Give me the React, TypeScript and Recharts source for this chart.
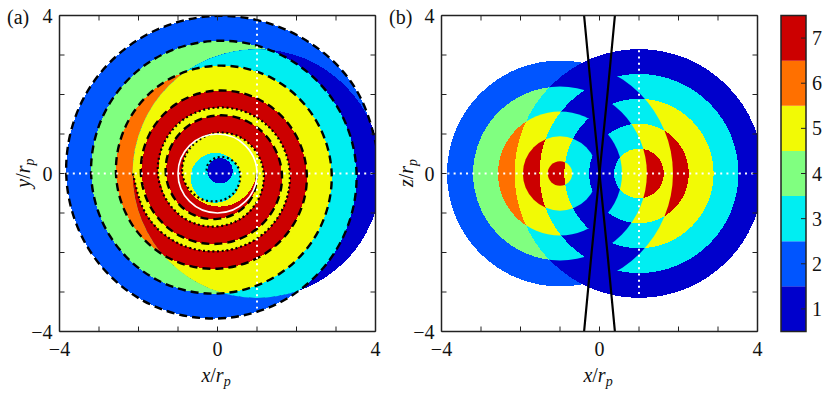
import { ComposedChart, ReferenceArea, ReferenceLine, Scatter, XAxis, YAxis } from "recharts"

const levelColors = ["#ffffff", "#0000cc", "#0055ff", "#00eef2", "#80ff80", "#f2fa05", "#ff7000", "#cc0000"]
const levelTicks = [1, 2, 3, 4, 5, 6, 7]
const axisTicks = [-4, -3, -2, -1, 0, 1, 2, 3, 4]
const labelledTicks = [-4, 0, 4]

// spiral radii read every 30 degrees, angle counted from +x going counter-clockwise
const dashedRadii = [
  4.15, 4.1, 4.04, 3.99, 3.94, 3.89, 3.83, 3.78, 3.73, 3.67, 3.62, 3.57, 3.52, 3.47, 3.41, 3.36, 3.31, 3.25, 3.2, 3.15,
  3.1, 3.04, 2.99, 2.94, 2.89, 2.83, 2.78, 2.73, 2.68, 2.62, 2.57, 2.52, 2.47, 2.41, 2.36, 2.31, 2.26, 2.2, 2.15, 2.1,
  2.05, 1.99, 1.94, 1.89, 1.84, 1.78, 1.73, 1.68, 1.63, 1.57, 1.52, 1.47, 1.42, 1.36, 1.31, 1.26, 1.21, 1.15, 1.1, 1.05,
  1.0,
]
// starts at 180 degrees
const dottedRadii = [
  2.14, 2.08, 2.03, 1.97, 1.93, 1.88, 1.83, 1.78, 1.72, 1.67, 1.62, 1.56, 1.51, 1.45, 1.4, 1.34, 1.28, 1.22, 1.17, 1.12,
  1.08, 1.03, 0.97, 0.93, 0.89, 0.82, 0.76, 0.7, 0.66, 0.61, 0.57, 0.52, 0.46, 0.41, 0.36, 0.31, 0.26,
]

const outsideBands = [
  { from: 0, to: 360, level: 2 },
  { from: 360, to: 720, level: 4 },
  { from: 720, to: 1080, level: 6 },
]
const insideBands = [
  { arm: "dashed", from: 180, to: 540, level: 3 },
  { arm: "dashed", from: 540, to: 900, level: 5 },
  { arm: "dashed", from: 900, to: 1260, level: 7 },
  { arm: "dotted", from: 180, to: 540, level: 5 },
  { arm: "dashed", from: 1260, to: 1620, level: 7 },
  { arm: "dotted", from: 540, to: 900, level: 5 },
  { arm: "dashed", from: 1620, to: 1800, level: 7 },
]
const coreDiscs = [
  { cx: 0.05, cy: 0.1, r: 0.94, level: 5 },
  { cx: -0.05, cy: -0.11, r: 0.63, level: 3 },
  { cx: 0.065, cy: 0.07, r: 0.32, level: 1 },
]
const crescentDisc = { cx: 1, cy: 0, r: 3.15 }

// panel b: two families of discs, and the level of each overlap
const leftRadii = [2.86, 2.2, 1.57, 0.94, 0.31]
const rightRadii = [3.15, 2.52, 1.89, 1.26, 0.63]
const overlapLevels = [
  [0, 1, 3, 5, 7, 7],
  [2, 1, 1, 3, 5, 7],
  [4, 3, 1, 1, 3, 5],
  [6, 5, 3, 1, 1, 3],
  [7, 7, 5, 3, 1, 1],
  [7, 7, 7, 5, 3, 1],
]
const wedgeA = [
  { x: -0.39, y: 4 },
  { x: -0.2, y: 2 },
  { x: 0, y: 0 },
  { x: 0.2, y: -2 },
  { x: 0.39, y: -4 },
]
const wedgeB = [
  { x: 0.39, y: 4 },
  { x: 0.2, y: 2 },
  { x: 0, y: 0 },
  { x: -0.2, y: -2 },
  { x: -0.39, y: -4 },
]

const FONT = "'Liberation Serif', serif"
const INK = "#222"
const PLOT = 316

function armPoints(arm: string, from: number, to: number) {
  const radii = arm === "dashed" ? dashedRadii : dottedRadii
  const start = arm === "dashed" ? 0 : 180
  const pts = []
  for (let a = from; a <= to; a += 30) {
    const r = radii[(a - start) / 30]
    const t = (a * Math.PI) / 180
    pts.push({ x: r * Math.cos(t), y: r * Math.sin(t) })
  }
  return pts
}

const NoMark = () => null

function axisTick(side: string, labels: number[], fmt = (v: number) => String(v).replace("-", "−")) {
  return (p: any) => {
    const { x, y, payload } = p
    const v = payload.value
    const show = labels.includes(v)
    if (side === "bottom")
      return (
        <g>
          <line x1={x} x2={x} y1={y} y2={y - 5} stroke={INK} />
          {show && (
            <text x={x} y={y + 24} textAnchor="middle" fontFamily={FONT} fontSize={20} fill="#111">
              {fmt(v)}
            </text>
          )}
        </g>
      )
    if (side === "top") return <line x1={x} x2={x} y1={y} y2={y + 5} stroke={INK} />
    if (side === "right")
      return (
        <g>
          <line x1={x} x2={x - 5} y1={y} y2={y} stroke={INK} />
          {show && (
            <text x={x + 6} y={y + 7} fontFamily={FONT} fontSize={20} fill="#111">
              {fmt(v)}
            </text>
          )}
        </g>
      )
    return (
      <g>
        <line x1={x} x2={x + 5} y1={y} y2={y} stroke={INK} />
        {show && (
          <text x={x - 7} y={y + 7} textAnchor="end" fontFamily={FONT} fontSize={20} fill="#111">
            {fmt(v)}
          </text>
        )}
      </g>
    )
  }
}

function frameAxes() {
  const line = { stroke: INK, strokeWidth: 1.5 }
  const common = { type: "number" as const, ticks: axisTicks, domain: [-4, 4], allowDataOverflow: true, interval: 0 as const, tickSize: 0, tickMargin: 0, tickLine: false, axisLine: line, zIndex: 5000 }
  return [
    <XAxis key="xb" dataKey="x" height={1} tick={axisTick("bottom", labelledTicks)} {...common} />,
    <XAxis key="xt" xAxisId="top" orientation="top" dataKey="x" height={1} tick={axisTick("top", [])} {...common} />,
    <YAxis key="yl" dataKey="y" width={1} tick={axisTick("left", labelledTicks)} {...common} />,
    <YAxis key="yr" yAxisId="right" orientation="right" dataKey="y" width={1} tick={axisTick("right", [])} {...common} />,
  ]
}

function discShape(fill: string, clip?: string, extra: any = {}) {
  return (p: any) => (
    <ellipse
      cx={p.x + p.width / 2}
      cy={p.y + p.height / 2}
      rx={p.width / 2}
      ry={p.height / 2}
      fill={fill}
      clipPath={clip ? `url(#${clip})` : undefined}
      shapeRendering="crispEdges"
      {...extra}
    />
  )
}

// disc with a hole: holeShare is the inner radius as a share of the outer one
function ringShape(fill: string, clip: string, holeShare: number) {
  return (p: any) => {
    const R = p.width / 2
    const r = R * holeShare
    const cx = p.x + R
    const cy = p.y + p.height / 2
    const circle = (q: number) => `M${cx - q},${cy}A${q},${q} 0 1 0 ${cx + q},${cy}A${q},${q} 0 1 0 ${cx - q},${cy}Z`
    return <path d={circle(R) + circle(r)} fillRule="evenodd" fill={fill} clipPath={`url(#${clip})`} shapeRendering="crispEdges" />
  }
}

function clipDisc(id: string, parent?: string) {
  return (p: any) => (
    <clipPath id={id} clipPath={parent ? `url(#${parent})` : undefined}>
      <ellipse cx={p.x + p.width / 2} cy={p.y + p.height / 2} rx={p.width / 2} ry={p.height / 2} shapeRendering="crispEdges" />
    </clipPath>
  )
}

function clipRect(id: string) {
  return (p: any) => (
    <clipPath id={id}>
      <rect x={p.x} y={p.y} width={p.width} height={p.height} />
    </clipPath>
  )
}

function disc(key: string, cx: number, cy: number, r: number, shape: any, zIndex: number) {
  return (
    <ReferenceArea
      key={key}
      x1={cx - r}
      x2={cx + r}
      y1={cy - r}
      y2={cy + r}
      ifOverflow="visible"
      shape={shape}
      zIndex={zIndex}
    />
  )
}

function band(key: string, pts: any[], level: number, clip: string, zIndex: number) {
  return (
    <Scatter
      key={key}
      data={pts}
      shape={NoMark}
      line={{ fill: levelColors[level], stroke: "none", clipPath: `url(#${clip})`, shapeRendering: "crispEdges" } as any}
      lineJointType="natural"
      isAnimationActive={false}
      zIndex={zIndex}
    />
  )
}

function curve(key: string, pts: any[], style: any, zIndex: number, type = "natural") {
  return (
    <Scatter
      key={key}
      data={pts}
      shape={NoMark}
      line={{ fill: "none", ...style }}
      lineJointType={type as any}
      isAnimationActive={false}
      zIndex={zIndex}
    />
  )
}

function whiteGuide(key: string, segment: any[], zIndex: number) {
  return (
    <ReferenceLine
      key={key}
      segment={segment}
      stroke="#fff"
      strokeWidth={2}
      strokeDasharray="2 4.2"
      ifOverflow="visible"
      zIndex={zIndex}
    />
  )
}

function PanelA() {
  let z = 10
  return (
    <ComposedChart width={415} height={395} margin={{ left: 58.5, top: 14.5, right: 415 - 60.5 - PLOT, bottom: 395 - 16.5 - PLOT }}>
      {frameAxes()}
      <ReferenceArea x1={-4} x2={4} y1={-4} y2={4} ifOverflow="visible" shape={clipRect("a-frame")} zIndex={z++} />
      {disc("clipC", crescentDisc.cx, crescentDisc.cy, crescentDisc.r, clipDisc("a-c", "a-frame"), z++)}
      {outsideBands.map((b, i) => band(`o${i}`, armPoints("dashed", b.from, b.to), b.level, "a-frame", z++))}
      {disc("discC", crescentDisc.cx, crescentDisc.cy, crescentDisc.r, discShape(levelColors[1], "a-frame"), z++)}
      {insideBands.map((b, i) => band(`i${i}`, armPoints(b.arm, b.from, b.to), b.level, "a-c", z++))}
      {coreDiscs.map((d, i) => disc(`core${i}`, d.cx, d.cy, d.r, discShape(levelColors[d.level]), z++))}
      {curve("dashed", armPoints("dashed", 0, 1800), { stroke: "#000", strokeWidth: 2.4, strokeDasharray: "8 5", clipPath: "url(#a-frame)" }, z++)}
      {curve("dotted", armPoints("dotted", 180, 1260), { stroke: "#000", strokeWidth: 2.2, strokeDasharray: "2 2.7" }, z++)}
      {disc("planet", 0, 0, 1, discShape("none", undefined, { stroke: "#fff", strokeWidth: 1.6, shapeRendering: "auto" }), z++)}
      {whiteGuide("h", [{ x: -3.82, y: 0 }, { x: 4, y: 0 }], z++)}
      {whiteGuide("v", [{ x: 1, y: 3.85 }, { x: 1, y: -3.42 }], z++)}
    </ComposedChart>
  )
}

function PanelB() {
  let z = 10
  const cells: any[] = []
  // plain left discs go underneath everything, so the clipped edges only mix neighbouring cells
  overlapLevels.forEach((row, iL) => {
    if (iL > 0) cells.push(disc(`lf${iL}`, -1, 0, leftRadii[iL - 1], discShape(levelColors[row[0]]), z++))
  })
  overlapLevels.forEach((row, iL) => {
    const clip = iL === 0 ? "b-frame" : `b-l${iL}`
    if (iL > 0) cells.push(disc(`lc${iL}`, -1, 0, leftRadii[iL - 1], clipDisc(clip), z++))
    rightRadii.forEach((r, k) => {
      const hole = k + 1 < rightRadii.length ? rightRadii[k + 1] / r : 0
      cells.push(disc(`c${iL}-${k}`, 1, 0, r, ringShape(levelColors[row[k + 1]], clip, hole), z++))
    })
  })
  return (
    <ComposedChart width={415} height={395} margin={{ left: 55.5, top: 14.5, right: 415 - 57.5 - PLOT, bottom: 395 - 16.5 - PLOT }}>
      {frameAxes()}
      <ReferenceArea x1={-4} x2={4} y1={-4} y2={4} ifOverflow="visible" shape={clipRect("b-frame")} zIndex={z++} />
      {cells}
      {whiteGuide("h", [{ x: -3.85, y: 0 }, { x: 4, y: 0 }], z++)}
      {whiteGuide("v", [{ x: 1, y: 3.12 }, { x: 1, y: -3.12 }], z++)}
      {curve("w1", wedgeA, { stroke: "#000", strokeWidth: 2.2 }, z++, "linear")}
      {curve("w2", wedgeB, { stroke: "#000", strokeWidth: 2.2 }, z++, "linear")}
    </ComposedChart>
  )
}

function ColorBar() {
  return (
    <ComposedChart width={60} height={395} margin={{ left: 11, top: 15.5, right: 23, bottom: 395 - 15.5 - PLOT }}>
      <XAxis type="number" dataKey="x" domain={[0, 1]} hide allowDataOverflow />
      <YAxis
        type="number"
        dataKey="y"
        orientation="right"
        domain={[0.5, 7.5]}
        ticks={levelTicks}
        interval={0}
        width={1}
        tickSize={0}
        tickMargin={0}
        tickLine={false}
        axisLine={false}
        tick={axisTick("right", levelTicks)}
        allowDataOverflow
        zIndex={100}
      />
      <Scatter data={levelTicks.map((y) => ({ x: 0, y }))} shape={NoMark} isAnimationActive={false} />
      {levelTicks.map((v) => (
        <ReferenceArea key={v} x1={0} x2={1} y1={v - 0.5} y2={v + 0.5} fill={levelColors[v]} fillOpacity={1} stroke="none" ifOverflow="visible" zIndex={10 + v} />
      ))}
      <ReferenceArea x1={0} x2={1} y1={0.5} y2={7.5} fill="none" stroke={INK} strokeWidth={1.5} ifOverflow="visible" zIndex={50} />
    </ComposedChart>
  )
}

function Titles() {
  const text = { fontFamily: FONT, fontSize: 20, fill: "#111" }
  const axis = (x: number, y: number, name: string, rotate = false) => (
    <text x={x} y={y} textAnchor="middle" fontStyle="italic" transform={rotate ? `rotate(-90 ${x} ${y})` : undefined} {...text}>
      {name}
      <tspan fontStyle="normal">/</tspan>r
      <tspan dy={4} fontSize={14}>
        p
      </tspan>
    </text>
  )
  return (
    <svg width={830} height={395} style={{ position: "absolute", left: 0, top: 0, pointerEvents: "none" }}>
      <text x={7} y={24} {...text}>
        (a)
      </text>
      <text x={389} y={24} {...text}>
        (b)
      </text>
      {axis(216, 382, "x")}
      {axis(598, 382, "x")}
      {axis(30, 173, "y", true)}
      {axis(413, 173, "z", true)}
    </svg>
  )
}

export default function App() {
  return (
    <div style={{ position: "absolute", left: 0, top: 0, width: 830, height: 395, background: "#fff" }}>
      <div style={{ position: "absolute", left: 0, top: 0 }}>
        <PanelA />
      </div>
      <div style={{ position: "absolute", left: 385, top: 0 }}>
        <PanelB />
      </div>
      <div style={{ position: "absolute", left: 770, top: 0 }}>
        <ColorBar />
      </div>
      <Titles />
    </div>
  )
}
